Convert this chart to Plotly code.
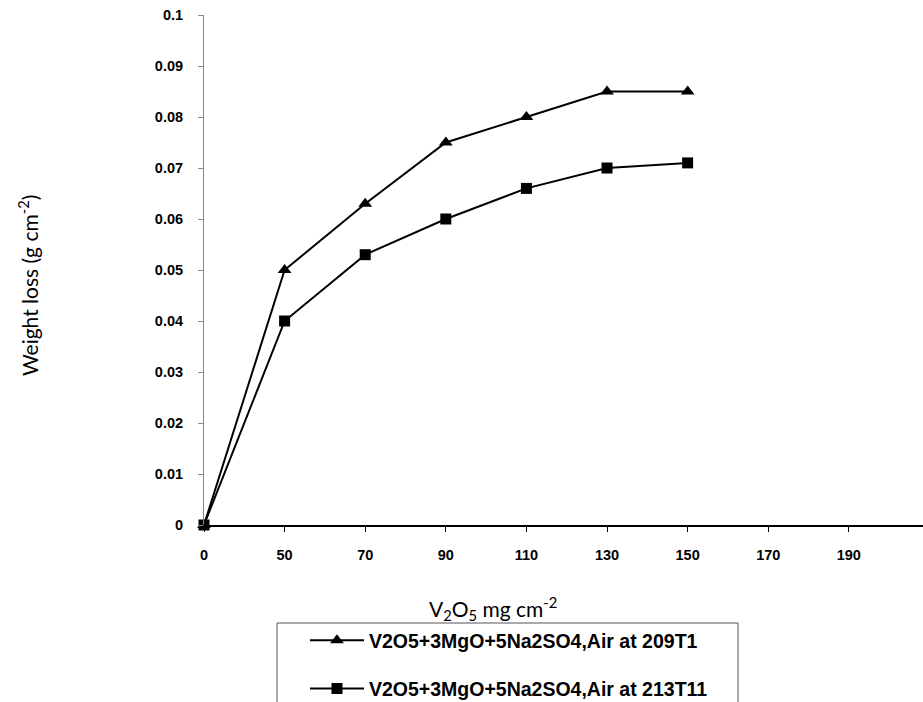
import plotly.graph_objects as go

categories = ["0", "50", "70", "90", "110", "130", "150", "170", "190"]
x_data = ["0", "50", "70", "90", "110", "130", "150"]
series1_name = "V2O5+3MgO+5Na2SO4,Air at 209T1"
series1 = [0, 0.05, 0.063, 0.075, 0.08, 0.085, 0.085]
series2_name = "V2O5+3MgO+5Na2SO4,Air at 213T11"
series2 = [0, 0.04, 0.053, 0.06, 0.066, 0.07, 0.071]
y_ticks = [0, 0.01, 0.02, 0.03, 0.04, 0.05, 0.06, 0.07, 0.08, 0.09, 0.1]
y_ticktext = ["0", "0.01", "0.02", "0.03", "0.04", "0.05", "0.06", "0.07", "0.08", "0.09", "0.1"]

fig = go.Figure()
fig.add_trace(go.Scatter(
    x=x_data, y=series1, name=series1_name, mode="lines+markers",
    line=dict(color="black", width=2),
    marker=dict(symbol="triangle-up", size=12, color="black"),
    legendgroup="a", cliponaxis=False,
))
fig.add_trace(go.Scatter(
    x=x_data, y=series2, name=series2_name, mode="lines+markers",
    line=dict(color="black", width=2),
    marker=dict(symbol="square", size=11, color="black"),
    legendgroup="b", cliponaxis=False,
))

tick_font = dict(family="Liberation Sans, Arial", size=14.5, color="black", weight="bold")

fig.update_layout(
    width=923, height=702,
    margin=dict(l=204, r=0, t=15, b=177, autoexpand=False),
    plot_bgcolor="white", paper_bgcolor="white",
    showlegend=True,
    legend=dict(
        x=(305 - 204) / 719, y=(525 - 621) / 510, xanchor="left", yanchor="top",
        font=dict(family="Liberation Sans, Arial", size=19.5, color="black", weight="bold"),
        bgcolor="rgba(0,0,0,0)", borderwidth=0,
        tracegroupgap=20, itemwidth=54,
    ),
    xaxis=dict(
        type="category", categoryorder="array", categoryarray=categories,
        range=[0, 8.92], showgrid=False, zeroline=False, automargin=False,
        showline=True, linecolor="black", linewidth=2,
        ticks="outside", ticklen=5, tickcolor="black", tickwidth=1,
        tickfont=tick_font, ticklabelstandoff=11,
    ),
    yaxis=dict(
        range=[0, 0.1], showgrid=False, zeroline=False, automargin=False,
        showline=True, linecolor="#868686", linewidth=1,
        ticks="outside", ticklen=5, tickcolor="#868686",
        tickvals=y_ticks, ticktext=y_ticktext,
        tickfont=tick_font, ticklabelstandoff=12,
    ),
    shapes=[dict(
        type="rect", xref="paper", yref="paper",
        x0=(277 - 204) / 719, x1=(738 - 204) / 719,
        y0=(525 - 715) / 510, y1=(525 - 623) / 510,
        line=dict(color="#555555", width=1), fillcolor="rgba(0,0,0,0)",
    )],
    annotations=[
        dict(text="Weight loss (g cm<sup>-2</sup>)", xref="paper", yref="paper",
             x=(28 - 204) / 719, y=(525 - 286) / 510, textangle=-90, showarrow=False,
             font=dict(family="Lato, Open Sans", size=21, color="black"),
             xanchor="center", yanchor="middle"),
        dict(text="V<sub>2</sub>O<sub>5</sub> mg cm<sup>-2</sup>", xref="paper", yref="paper",
             x=(493 - 204) / 719, y=(525 - 608) / 510, showarrow=False,
             font=dict(family="Lato, Open Sans", size=21, color="black"),
             xanchor="center", yanchor="middle"),
    ],
)

fig.write_html("out.html")
